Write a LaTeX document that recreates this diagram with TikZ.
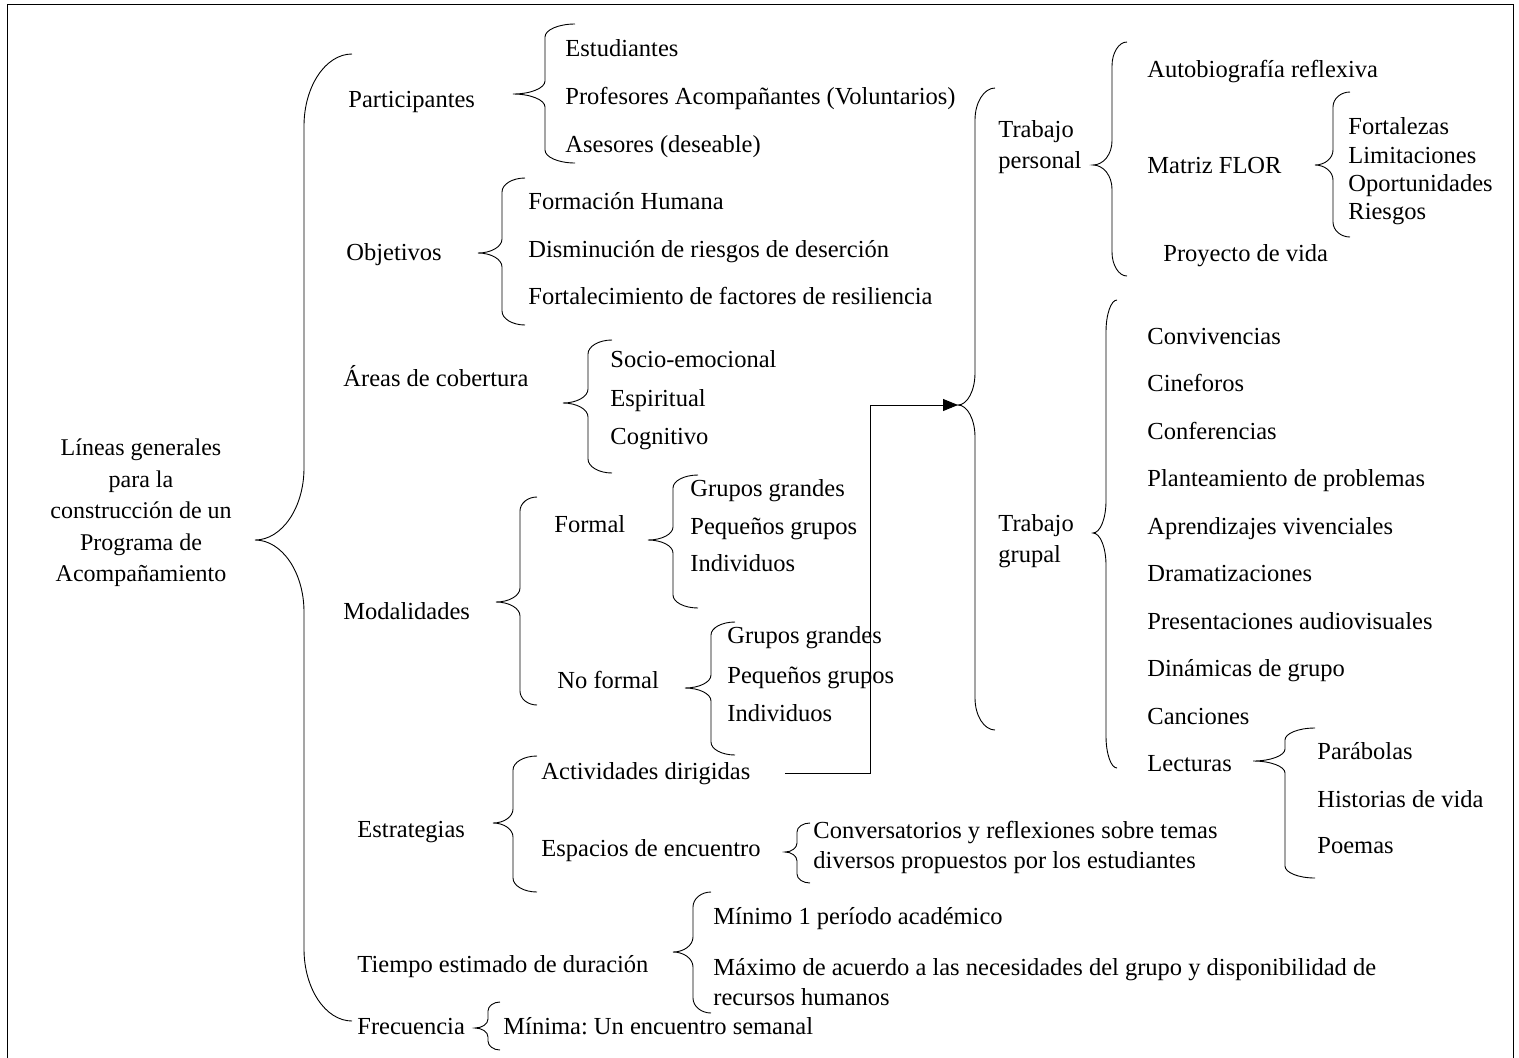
\documentclass[tikz,border=0pt]{standalone}
\usepackage{fontspec}
\setmainfont{Liberation Serif}
\usetikzlibrary{arrows.meta}
\frenchspacing

\tikzset{
    texto/.style={anchor=west, inner sep=0pt, text height=17pt, text depth=5pt},
    bloque/.style={anchor=west, inner sep=0pt, align=left},
    flecha/.style={-{Triangle[length=15pt,width=12pt]}}
}

% llave: x extremos, x linea, x punta, y arriba, y punta, y abajo, curva
\newcommand{\llave}[7]{%
    \draw (#1,#4) .. controls (#1+0.55*#2-0.55*#1,#4) and (#2,#4+0.45*#7) .. (#2,#4+#7)
        -- (#2,#5-#7) .. controls (#2,#5-0.45*#7) and (#3+0.55*#2-0.55*#3,#5) .. (#3,#5)
        .. controls (#3+0.55*#2-0.55*#3,#5) and (#2,#5+0.45*#7) .. (#2,#5+#7)
        -- (#2,#6-#7) .. controls (#2,#6-0.45*#7) and (#1+0.55*#2-0.55*#1,#6) .. (#1,#6);}

\begin{document}
\begin{tikzpicture}[x=1pt, y=-1pt, line width=0.9pt,
    every node/.style={font=\fontsize{24.5}{28}\selectfont}]
    \useasboundingbox (0,0) rectangle (1519,1058);
    \draw (7,1058) -- (7,4) -- (1513,4) -- (1513,1058);

    \node[align=center, font=\fontsize{24}{31.5}\selectfont] (lineas) at (141,513)
        {Líneas generales\\para la\\construcción de un\\Programa de\\Acompañamiento};
    \llave{352}{304}{255}{54}{540}{1021}{72}

    \node[texto] (partic) at (348,101) {Participantes};
    \node[texto] (objet) at (346,254) {Objetivos};
    \node[texto] (areas) at (343,380) {Áreas de cobertura};
    \node[texto] (modal) at (343,613) {Modalidades};
    \node[texto] (estrat) at (357,831) {Estrategias};
    \node[texto] (tiempo) at (357,966) {Tiempo estimado de duración};
    \node[texto] (frec) at (357,1028) {Frecuencia};

    \llave{575}{545}{513}{24}{94}{163}{13}
    \node[texto] (estud) at (565,50) {Estudiantes};
    \node[texto] (profes) at (565,98) {Profesores Acompañantes (Voluntarios)};
    \node[texto] (asesor) at (565,146) {Asesores (deseable)};

    \llave{525}{502}{478}{178}{253}{325}{14}
    \node[texto] (formhum) at (528,203) {Formación Humana};
    \node[texto] (dismin) at (528,251) {Disminución de riesgos de deserción};
    \node[texto] (fortal) at (528,298) {Fortalecimiento de factores de resiliencia};

    \llave{612}{588}{563}{340}{403}{473}{14}
    \node[texto] (socio) at (610,361) {Socio-emocional};
    \node[texto] (espir) at (610,400) {Espiritual};
    \node[texto] (cogni) at (610,438) {Cognitivo};

    \llave{537}{520}{496}{497}{602}{705}{14}
    \node[texto] (formal) at (554,526) {Formal};
    \node[texto] (noformal) at (557,682) {No formal};

    \llave{698}{673}{648}{475}{540}{608}{13}
    \node[texto] (fgrandes) at (690,490) {Grupos grandes};
    \node[texto] (fpeq) at (690,528) {Pequeños grupos};
    \node[texto] (findiv) at (690,565) {Individuos};

    \llave{735}{711}{685}{622}{688}{755}{13}
    \node[texto] (ngrandes) at (727,637) {Grupos grandes};
    \node[texto] (npeq) at (727,677) {Pequeños grupos};
    \node[texto] (nindiv) at (727,715) {Individuos};

    \llave{537}{513}{493}{756}{823}{892}{14}
    \node[texto] (actdir) at (541,773) {Actividades dirigidas};
    \node[texto] (espac) at (541,850) {Espacios de encuentro};

    \llave{810}{797}{785}{823}{852}{883}{9}
    \node[bloque, font=\fontsize{24.5}{30}\selectfont] (convers) at (813,847)
        {Conversatorios y reflexiones sobre temas\\diversos propuestos por los estudiantes};

    \llave{711}{693}{673}{892}{952}{1013}{15}
    \node[texto] (minimo) at (713,918) {Mínimo 1 período académico};
    \node[bloque, font=\fontsize{24.5}{30}\selectfont] (maximo) at (713,982)
        {Máximo de acuerdo a las necesidades del grupo y disponibilidad de\\recursos humanos};

    \llave{500}{488}{475}{1002}{1028}{1050}{9}
    \node[texto] (minima) at (503,1028) {Mínima: Un encuentro semanal};

    \llave{995}{975}{958}{88}{405}{730}{32}
    \coordinate (puntatrab) at (958,405);
    \coordinate (codo) at (870,405);
    \node[bloque, font=\fontsize{24.5}{31}\selectfont] (trabper) at (998,147) {Trabajo\\personal};
    \node[bloque, font=\fontsize{24.5}{31}\selectfont] (trabgru) at (998,541) {Trabajo\\grupal};
    \draw[flecha] ([xshift=34pt]actdir.east) -| (codo) -- (puntatrab);

    \llave{1127}{1112}{1093}{42}{165}{276}{24}
    \node[texto] (autob) at (1147,71) {Autobiografía reflexiva};
    \node[texto] (matriz) at (1147,167) {Matriz FLOR};
    \node[texto] (proyec) at (1163,255) {Proyecto de vida};

    \llave{1350}{1333}{1315}{92}{165}{237}{15}
    \node[texto] (fortz) at (1348,128) {Fortalezas};
    \node[texto] (limit) at (1348,157) {Limitaciones};
    \node[texto] (oport) at (1348,185) {Oportunidades};
    \node[texto] (riesg) at (1348,213) {Riesgos};

    \llave{1117}{1106}{1093}{300}{533}{768}{32}
    \node[texto] (conviv) at (1147,338) {Convivencias};
    \node[texto] (cinef) at (1147,385) {Cineforos};
    \node[texto] (confer) at (1147,433) {Conferencias};
    \node[texto] (plante) at (1147,480) {Planteamiento de problemas};
    \node[texto] (aprend) at (1147,528) {Aprendizajes vivenciales};
    \node[texto] (drama) at (1147,575) {Dramatizaciones};
    \node[texto] (present) at (1147,623) {Presentaciones audiovisuales};
    \node[texto] (dinam) at (1147,670) {Dinámicas de grupo};
    \node[texto] (cancio) at (1147,718) {Canciones};
    \node[texto] (lectu) at (1147,765) {Lecturas};

    \llave{1315}{1285}{1253}{728}{761}{878}{12}
    \node[texto] (parab) at (1317,753) {Parábolas};
    \node[texto] (histor) at (1317,801) {Historias de vida};
    \node[texto] (poemas) at (1317,847) {Poemas};
\end{tikzpicture}
\end{document}
